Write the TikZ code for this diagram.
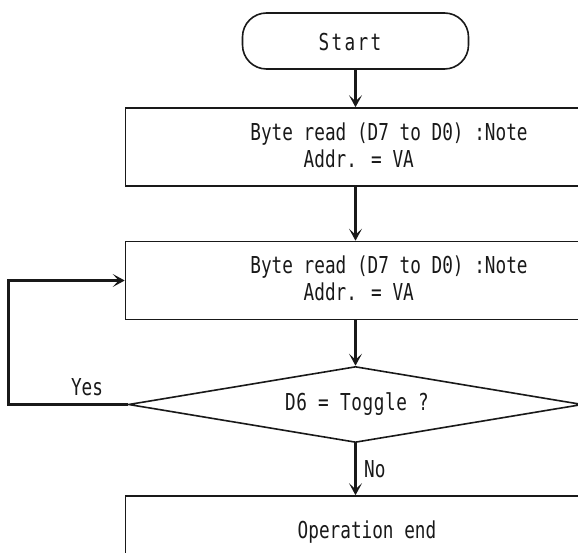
\documentclass[tikz,border=0pt]{standalone}
\usepackage{fontspec}
\newfontfamily\flowfont[FakeStretch=0.76]{DejaVu Sans Mono}
\usetikzlibrary{shapes.geometric,arrows.meta}
\begin{document}
\begin{tikzpicture}[x=1pt,y=-1pt,
  txt/.style={font=\flowfont\fontsize{23.3}{27}\selectfont, text=black!90, inner sep=0pt},
  procbox/.style={draw=black!90, line width=1.6pt, rectangle, minimum width=460pt, minimum height=78pt, inner sep=0pt},
  termbox/.style={draw=black!90, line width=1.6pt, rectangle, rounded corners=24pt, minimum width=226pt, minimum height=56pt, inner sep=0pt},
  decbox/.style={draw=black!90, line width=1.6pt, diamond, aspect=6, minimum width=454pt, minimum height=76pt, inner sep=0pt},
  flow/.style={draw=black!90, line width=3.4pt, -{Stealth[length=12pt,width=13pt,inset=6pt]}}
]
\useasboundingbox (0,0) rectangle (578,553);
\fill[white] (0,0) rectangle (578,553);
\clip (0,0) rectangle (578,553);

\node[termbox] (start) at (355.5,41) {};
\node[txt] (ts) at (350,42) {\addfontfeature{LetterSpace=10}Start};
\node[procbox] (box1) at (355.5,147) {};
\node[txt, align=left] (t1) at (389,148) {Byte read (D7 to D0) :Note\\\phantom{Byte }Addr. = VA};
\node[procbox] (box2) at (355.5,280.5) {};
\node[txt, align=left] (t2) at (389,281) {Byte read (D7 to D0) :Note\\\phantom{Byte }Addr. = VA};
\node[decbox, txt] (dia) at (355.5,404.5) {};
\node[txt] (td) at (357,404) {\addfontfeature{LetterSpace=2.5}D6 = Toggle ?};
\node[procbox] (box3) at (355.5,535) {};
\node[txt] (t3) at (367,532) {Operation end};
\node[txt] (yes) at (87,387) {Yes};
\coordinate (loopc) at (8.5,404.5);

\draw[flow] (start.south) -- (box1.north);
\draw[flow] (box1.south) -- (box2.north);
\draw[flow] (box2.south) -- (dia.north);
\draw[flow] (dia.south) -- node[txt, anchor=west, xshift=7pt] (no) {No} (box3.north);
\draw[flow] (dia.west) -- (loopc) |- (box2.west);
\end{tikzpicture}
\end{document}
